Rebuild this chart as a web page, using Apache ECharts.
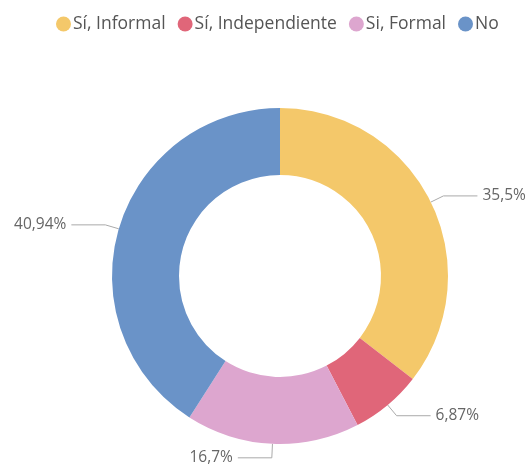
<!DOCTYPE html>
<html><head><meta charset="utf-8">
<script src="https://cdn.jsdelivr.net/npm/echarts@6/dist/echarts.min.js"></script>
<style>html,body{margin:0;padding:0;background:#fff}#c{width:530px;height:470px}</style>
</head><body><div id="c"></div>
<script>
const categories = ["Sí, Informal", "Sí, Independiente", "Si, Formal", "No"];
const values = [35.5, 6.87, 16.7, 40.94];
const labels = ["35,5%", "6,87%", "16,7%", "40,94%"];
const colors = ["#F4C86A", "#E06679", "#DDA6CF", "#6A93C8"];

const chart = echarts.init(document.getElementById('c'));
chart.setOption({
  animation: false,
  color: colors,
  legend: {
    top: 10, left: 51,
    icon: 'circle', itemWidth: 15, itemHeight: 15, itemGap: 12,
    textStyle: { fontFamily: 'Open Sans', fontSize: 17.5, color: '#555', padding: [0, 0, 0, -3] },
    data: categories
  },
  series: [{
    type: 'pie',
    center: [280, 276],
    radius: [101, 168],
    startAngle: 90,
    clockwise: true,
    data: categories.map((c, i) => ({ name: c, value: values[i] })),
    label: {
      formatter: p => labels[p.dataIndex],
      overflow: 'none',
      fontFamily: 'Open Sans', fontSize: 15.5, color: '#666'
    },
    labelLine: { length: 14, length2: 34, lineStyle: { color: '#aaa', width: 1 } },
    itemStyle: { borderWidth: 0 }
  }]
});
</script></body></html>
